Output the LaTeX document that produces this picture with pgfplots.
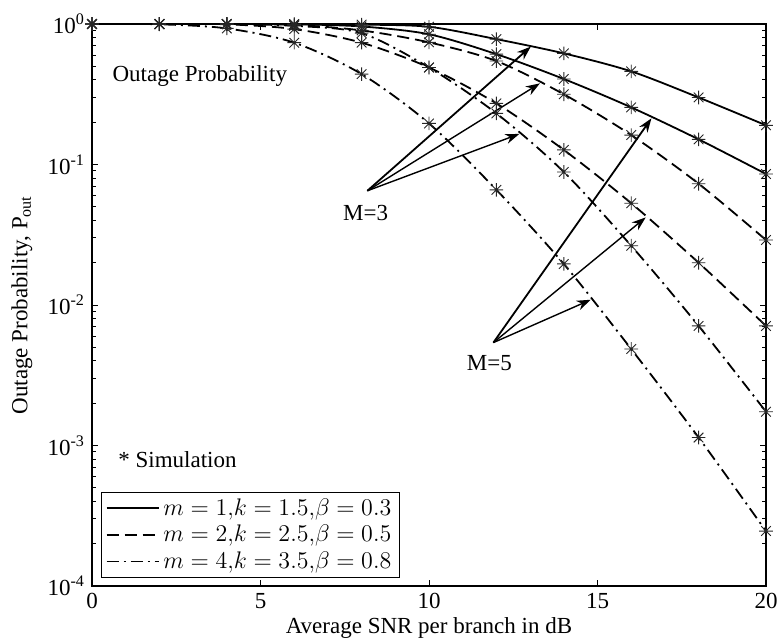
\documentclass[border=0pt]{standalone}
\usepackage{fontspec}
\setmainfont{Liberation Serif}
\usepackage{pgfplots}
\pgfplotsset{compat=1.18}
\usetikzlibrary{arrows.meta}

\pgfdeclareplotmark{star8}{%
  \pgfpathmoveto{\pgfqpoint{-\pgfplotmarksize}{0pt}}%
  \pgfpathlineto{\pgfqpoint{\pgfplotmarksize}{0pt}}%
  \pgfpathmoveto{\pgfqpoint{0pt}{-\pgfplotmarksize}}%
  \pgfpathlineto{\pgfqpoint{0pt}{\pgfplotmarksize}}%
  \pgfpathmoveto{\pgfqpoint{-0.707\pgfplotmarksize}{-0.707\pgfplotmarksize}}%
  \pgfpathlineto{\pgfqpoint{0.707\pgfplotmarksize}{0.707\pgfplotmarksize}}%
  \pgfpathmoveto{\pgfqpoint{-0.707\pgfplotmarksize}{0.707\pgfplotmarksize}}%
  \pgfpathlineto{\pgfqpoint{0.707\pgfplotmarksize}{-0.707\pgfplotmarksize}}%
  \pgfusepathqstroke}

\pgfplotstableread{
x   A      B      C      D      E       F
0   1      1      1      1      1       1
2   1      1      1      1      1       0.995
4   1      1      0.999  0.995  0.998   0.93
6   0.998  0.995  0.985  0.92   0.97    0.736
8   0.99   0.96   0.90   0.736  0.86    0.44
10  0.955  0.845  0.74   0.49   0.49    0.196
12  0.78   0.61   0.545  0.272  0.231   0.066
14  0.618  0.406  0.316  0.127  0.0885  0.0196
16  0.46   0.255  0.162  0.053  0.0264  0.00486
18  0.30   0.151  0.073  0.020  0.0071  0.00114
20  0.19   0.0856 0.029  0.0071 0.00174 0.000246
}\data

\begin{document}
\begin{tikzpicture}
\begin{axis}[
  scale only axis, width=337pt, height=281pt,
  ymode=log, xmin=0, xmax=20, ymin=1e-4, ymax=1,
  xtick={0,5,10,15,20},
  ytick={1e-4,1e-3,1e-2,1e-1,1},
  yticklabels={10\textsuperscript{-4},10\textsuperscript{-3},10\textsuperscript{-2},10\textsuperscript{-1},10\textsuperscript{0}},
  minor ytick={2e-4,3e-4,4e-4,5e-4,6e-4,7e-4,8e-4,9e-4,
               2e-3,3e-3,4e-3,5e-3,6e-3,7e-3,8e-3,9e-3,
               2e-2,3e-2,4e-2,5e-2,6e-2,7e-2,8e-2,9e-2,
               0.2,0.3,0.4,0.5,0.6,0.7,0.8,0.9},
  tick align=inside, tick pos=both,
  major tick length=3pt, minor tick length=2pt,
  every tick/.style={black, line width=0.5pt},
  axis line style={black, line width=0.6pt},
  font=\fontsize{11.5}{13}\selectfont,
  ticklabel style={font=\fontsize{11.5}{13}\selectfont},
  /pgf/number format/assume math mode=true,
  xlabel={Average SNR per branch in dB},
  ylabel={Outage Probability, P\textsubscript{out}},
  xlabel style={at={(axis description cs:0.5,-0.0747)}, anchor=center},
  ylabel style={at={(axis description cs:-0.104,0.5)}, anchor=center},
  legend style={at={(axis description cs:0.0134,0.0142)}, anchor=south west,
    draw=black, line width=0.6pt, fill=white, inner xsep=2pt, inner ysep=1pt,
    font=\fontsize{11.5}{13}\selectfont, row sep=-0.5pt},
  legend cell align=left,
  legend image code/.code={\draw[#1] (0pt,0pt) -- (26pt,0pt);},
]
\pgfplotsset{
  sol/.style={black, line width=0.9pt, solid, smooth},
  dsh/.style={black, line width=0.9pt, dash pattern=on 6pt off 3pt, smooth},
  dsd/.style={black, line width=0.9pt, dash pattern=on 6pt off 2.5pt on 1pt off 2.5pt, smooth},
  mk/.style={only marks, mark=star8, mark size=3.4pt, mark options={black!85, line width=0.45pt, solid}, forget plot},
}
\addplot[sol] table[x=x,y=A] {\data};
\addlegendentry{$m=1{,}k=1.5{,}\beta=0.3$}
\addplot[dsh] table[x=x,y=C] {\data};
\addlegendentry{$m=2{,}k=2.5{,}\beta=0.5$}
\addplot[dsd] table[x=x,y=E] {\data};
\addlegendentry{$m=4{,}k=3.5{,}\beta=0.8$}
\addplot[sol, forget plot] table[x=x,y=B] {\data};
\addplot[dsh, forget plot] table[x=x,y=D] {\data};
\addplot[dsd, forget plot] table[x=x,y=F] {\data};

\addplot[mk] table[x=x,y=A] {\data};
\addplot[mk] table[x=x,y=B] {\data};
\addplot[mk] table[x=x,y=C] {\data};
\addplot[mk] table[x=x,y=D] {\data};
\addplot[mk] table[x=x,y=E] {\data};
\addplot[mk] table[x=x,y=F] {\data};

\node[anchor=west, inner sep=0pt] at (axis cs:0.6,0.426) {Outage Probability};
\node[anchor=west, inner sep=0pt] at (axis cs:0.77,7.9e-4) {* Simulation};
\node[inner sep=0pt] at (axis cs:8.12,0.0454) {M=3};
\node[inner sep=0pt] at (axis cs:11.79,0.00385) {M=5};

\draw[black, line width=0.9pt, -{Stealth[length=7pt,width=5pt]}] (axis cs:8.17,0.065) -- (axis cs:13.02,0.69);
\draw[black, line width=0.7pt, -{Stealth[length=7pt,width=5pt]}] (axis cs:8.17,0.065) -- (axis cs:13.29,0.378);
\draw[black, line width=0.7pt, -{Stealth[length=7pt,width=5pt]}] (axis cs:8.17,0.065) -- (axis cs:12.68,0.165);
\draw[black, line width=0.9pt, -{Stealth[length=7pt,width=5pt]}] (axis cs:11.91,0.0054) -- (axis cs:16.6,0.213);
\draw[black, line width=0.7pt, -{Stealth[length=7pt,width=5pt]}] (axis cs:11.91,0.0054) -- (axis cs:16.43,0.042);
\draw[black, line width=0.7pt, -{Stealth[length=7pt,width=5pt]}] (axis cs:11.91,0.0054) -- (axis cs:14.8,0.0109);
\end{axis}
\pgfresetboundingbox
\useasboundingbox (-46pt,-28.5pt) rectangle (344pt,293pt);
\end{tikzpicture}
\end{document}
